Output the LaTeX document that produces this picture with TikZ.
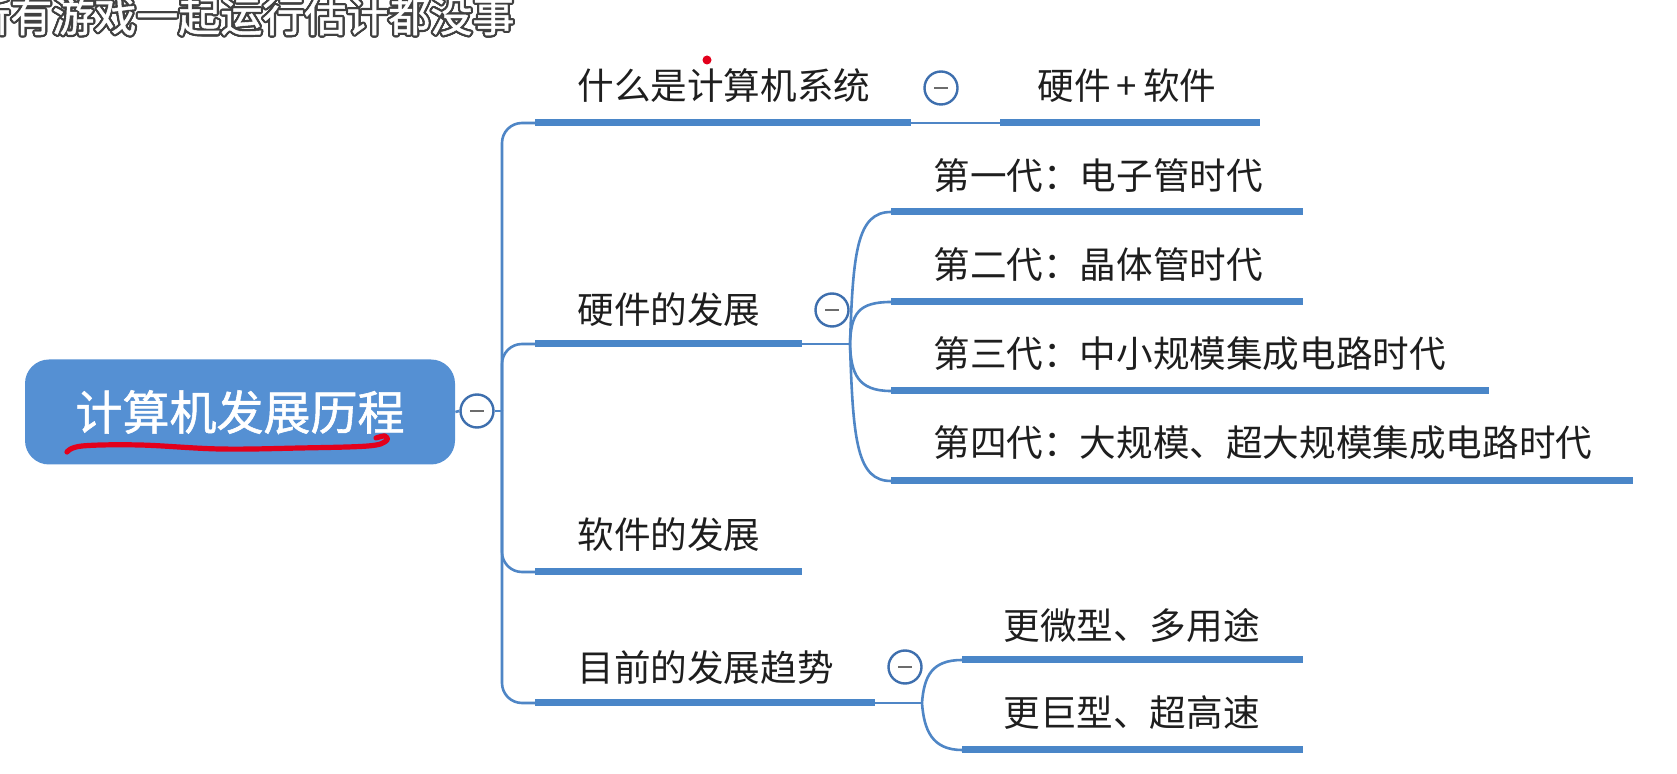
\documentclass[tikz,border=0pt]{standalone}
\usepackage{fontspec}
\usepackage{contour}
\contourlength{1.1pt}
\newfontfamily\cjk{Noto Sans CJK SC}
\newfontfamily\cjkb[FakeBold=1.2]{Noto Sans CJK SC}
\definecolor{barblue}{HTML}{4A86C8}
\definecolor{lineblue}{HTML}{4F86C6}
\definecolor{togblue}{HTML}{3E6FAE}
\definecolor{rootblue}{HTML}{5590D3}
\definecolor{txt}{HTML}{1E1E1E}
\definecolor{pen}{HTML}{E3001B}
\begin{document}
\begin{tikzpicture}[x=0.5pt,y=-0.5pt,
  bar/.style={line width=3.5pt, draw=barblue},
  link/.style={line width=1.3pt, draw=lineblue},
  lbl/.style={font=\cjk\fontsize{18.3}{20}\selectfont, text=txt, anchor=west, inner sep=0pt},
  tog/.style={circle, draw=togblue, line width=1.2pt, fill=white, minimum size=16.5pt, inner sep=0pt,
    path picture={\draw[gray!85!black, line width=1.3pt] ([xshift=-3.5pt]path picture bounding box.center) -- ([xshift=3.5pt]path picture bounding box.center);}},
  rootbox/.style={rectangle, rounded corners=12pt, fill=rootblue, draw=none, minimum width=215pt, minimum height=52.5pt, text=white, font=\cjkb\fontsize{23.5}{26}\selectfont}
]
\useasboundingbox (0,0) rectangle (1677,774);
\fill[white] (0,0) rectangle (1677,774);

% subtitle overlay
\node[anchor=west, inner sep=0pt, font=\cjkb\fontsize{21}{23}\selectfont, text=white] (sub) at (-32,17) {\contour{darkgray}{所有游戏一起运行估计都没事}};

% root
\node[rootbox] (root) at (240,412) {计算机发展历程};
\node[tog] (t0) at (477,411) {};
\coordinate (tr) at (502,411);
\draw[link] (root.east) -- (t0.west);
\draw[link] (t0.east) -- (tr);

% level-1 bar coordinates
\coordinate (b1s) at (535,123); \coordinate (b1e) at (911,123);
\coordinate (b2s) at (535,344); \coordinate (b2e) at (802,344);
\coordinate (b3s) at (535,572); \coordinate (b3e) at (802,572);
\coordinate (b4s) at (535,703); \coordinate (b4e) at (875,703);

\foreach \b in {b1s,b2s,b3s,b4s}
  \draw[link, rounded corners=10pt] (tr) |- (\b);

\draw[bar] (b1s) -- (b1e);
\draw[bar] (b2s) -- (b2e);
\draw[bar] (b3s) -- (b3e);
\draw[bar] (b4s) -- (b4e);

\node[lbl] (l1) at (577,86) {什么是计算机系统};
\node[lbl] (l2) at (577,310) {硬件的发展};
\node[lbl] (l3) at (577,535) {软件的发展};
\node[lbl] (l4) at (577,668) {目前的发展趋势};

% branch 1 child
\coordinate (c1s) at (1000,123); \coordinate (c1e) at (1260,123);
\draw[link] (b1e) -- (c1s);
\draw[bar] (c1s) -- (c1e);
\node[tog] (t1) at (941,88) {};
\node[lbl] (l1a) at (1037,86) {硬件\,+\,软件};

% branch 2 children
\coordinate (j2) at (850,344);
\draw[link] (b2e) -- (j2);
\node[tog] (t2) at (832,310) {};
\coordinate (g1s) at (891,212); \coordinate (g1e) at (1303,212);
\coordinate (g2s) at (891,302); \coordinate (g2e) at (1303,302);
\coordinate (g3s) at (891,391); \coordinate (g3e) at (1489,391);
\coordinate (g4s) at (891,481); \coordinate (g4e) at (1633,481);
\draw[link] (j2) .. controls (853,252) and (857,212) .. (g1s);
\draw[link] (j2) .. controls (851,314) and (858,302) .. (g2s);
\draw[link] (j2) .. controls (851,374) and (858,391) .. (g3s);
\draw[link] (j2) .. controls (853,441) and (857,481) .. (g4s);
\draw[bar] (g1s) -- (g1e);
\draw[bar] (g2s) -- (g2e);
\draw[bar] (g3s) -- (g3e);
\draw[bar] (g4s) -- (g4e);
\node[lbl] (lg1) at (933,176) {第一代：电子管时代};
\node[lbl] (lg2) at (933,265) {第二代：晶体管时代};
\node[lbl] (lg3) at (933,354) {第三代：中小规模集成电路时代};
\node[lbl] (lg4) at (933,443) {第四代：大规模、超大规模集成电路时代};

% branch 4 children
\coordinate (j4) at (922,703);
\draw[link] (b4e) -- (j4);
\node[tog] (t4) at (905,667) {};
\coordinate (f1s) at (962,660); \coordinate (f1e) at (1303,660);
\coordinate (f2s) at (962,750); \coordinate (f2e) at (1303,750);
\draw[link] (j4) .. controls (924,676) and (932,660) .. (f1s);
\draw[link] (j4) .. controls (924,730) and (932,750) .. (f2s);
\draw[bar] (f1s) -- (f1e);
\draw[bar] (f2s) -- (f2e);
\node[lbl] (lf1) at (1003,626) {更微型、多用途};
\node[lbl] (lf2) at (1003,713) {更巨型、超高速};

% handwritten annotations
\fill[pen] (707,60) circle (4.5);
\draw[pen, line width=2.6pt, line cap=round, line join=round]
  plot[smooth, tension=0.6] coordinates {(67,452) (82,446) (140,445) (220,449) (300,448) (368,446) (386,441) (385,436) (376,438)};
\end{tikzpicture}
\end{document}
